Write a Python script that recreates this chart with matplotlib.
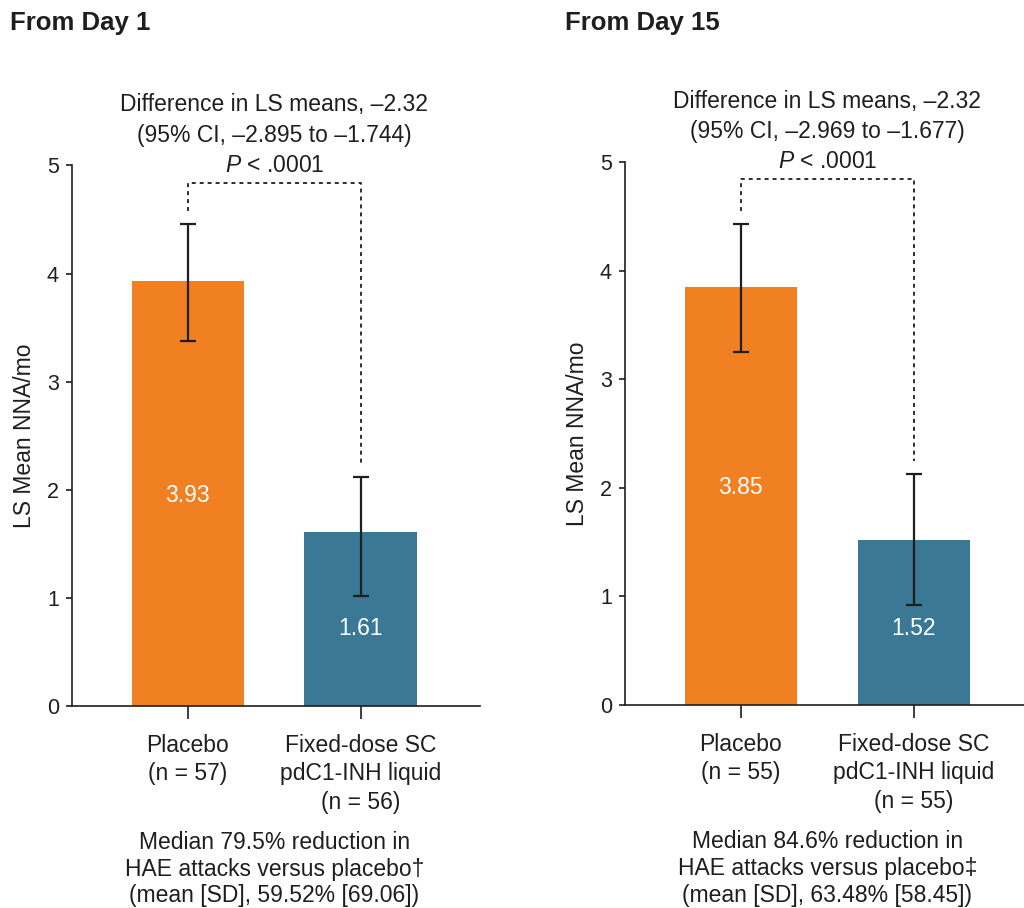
import matplotlib
matplotlib.use("Agg")
import matplotlib.pyplot as plt
import matplotlib.transforms as mtransforms

plt.rcParams['font.family'] = ['Liberation Sans', 'DejaVu Sans']
plt.rcParams['mathtext.fontset'] = 'custom'
plt.rcParams['mathtext.rm'] = 'Liberation Sans'
plt.rcParams['mathtext.it'] = 'Liberation Sans:italic'

INK = '#1e1e1e'
ORANGE = '#F08022'
BLUE = '#3A7896'
FS = 16.5

# LS mean NNA/mo with 95% CI, per analysis window
groups = ['Placebo', 'Fixed-dose SC']
day1_means = [3.93, 1.61]
day1_lo = [3.38, 1.02]
day1_hi = [4.46, 2.12]
day15_means = [3.85, 1.52]
day15_lo = [3.25, 0.92]
day15_hi = [4.43, 2.13]

day1_ticks = ['Placebo\n(n = 57)', 'Fixed-dose SC\npdC1-INH liquid\n(n = 56)']
day15_ticks = ['Placebo\n(n = 55)', 'Fixed-dose SC\npdC1-INH liquid\n(n = 55)']

day1_diff = ['Difference in LS means, \u20132.32',
             '(95% CI, \u20132.895 to \u20131.744)']
day15_diff = ['Difference in LS means, \u20132.32',
              '(95% CI, \u20132.969 to \u20131.677)']
p_text = '$\\it{P}$ < .0001'

day1_note = ('Median 79.5% reduction in\nHAE attacks versus placebo\u2020\n'
             '(mean [SD], 59.52% [69.06])')
day15_note = ('Median 84.6% reduction in\nHAE attacks versus placebo\u2021\n'
              '(mean [SD], 63.48% [58.45])')


def draw_panel(ax, means, lo, hi, ticks, diff, note, text_y):
    x = list(range(len(means)))
    ax.bar(x, means, width=0.65, color=[ORANGE, BLUE], zorder=2)
    yerr = [[m - l for m, l in zip(means, lo)],
            [h - m for m, h in zip(means, hi)]]
    ax.errorbar(x, means, yerr=yerr, fmt='none', ecolor=INK,
                elinewidth=1.6, capsize=6, capthick=1.6, zorder=3)

    for xi, m, ty in zip(x, means, text_y):
        ax.text(xi, ty, f'{m:.2f}', color='white', fontsize=FS,
                ha='center', va='center', zorder=4)

    # significance bracket
    top = 4.84
    ax.plot([0, 0, 1, 1], [hi[0] + 0.12, top, top, hi[1] + 0.12],
            color=INK, lw=1.3, linestyle=(0, (2.2, 2.2)), zorder=3,
            clip_on=False)

    ax.text(0.5, 5.56, diff[0], ha='center', va='center', fontsize=FS,
            color=INK, clip_on=False)
    ax.text(0.5, 5.28, diff[1], ha='center', va='center', fontsize=FS,
            color=INK, clip_on=False)
    ax.text(0.5, 5.0, p_text, ha='center', va='center', fontsize=FS,
            color=INK, clip_on=False)

    ax.set_xlim(-0.67, 1.69)
    ax.set_ylim(0, 5)
    ax.set_xticks(x)
    ax.set_xticklabels(ticks, fontsize=FS, color=INK, linespacing=1.3)
    ax.set_yticks([0, 1, 2, 3, 4, 5])
    ax.tick_params(axis='y', length=4.5, width=1.2, pad=5, labelsize=15.5,
                   colors=INK)
    ax.tick_params(axis='x', length=9, width=1.2, pad=11, colors=INK)
    for side in ['top', 'right']:
        ax.spines[side].set_visible(False)
    for side in ['left', 'bottom']:
        ax.spines[side].set_linewidth(1.2)
        ax.spines[side].set_color(INK)
    ax.set_ylabel('LS Mean NNA/mo', fontsize=FS, color=INK, labelpad=8)

    trans = mtransforms.blended_transform_factory(ax.transData, ax.transAxes)
    ax.text(0.5, -0.231, note, transform=trans, ha='center', va='top',
            fontsize=FS, color=INK, linespacing=1.21)


fig = plt.figure(figsize=(10.24, 9.08), dpi=100)
ax1 = fig.add_axes([0.0703, 0.2225, 0.3984, 0.5953])
ax2 = fig.add_axes([0.6104, 0.2236, 0.3984, 0.5980])

draw_panel(ax1, day1_means, day1_lo, day1_hi, day1_ticks, day1_diff,
           day1_note, [1.95, 0.72])
draw_panel(ax2, day15_means, day15_lo, day15_hi, day15_ticks, day15_diff,
           day15_note, [2.0, 0.70])

fig.text(0.0098, 1 - 23 / 908, 'From Day 1', fontsize=18.5, weight='bold',
         color=INK, va='center', ha='left')
fig.text(0.5518, 1 - 23 / 908, 'From Day 15', fontsize=18.5, weight='bold',
         color=INK, va='center', ha='left')

fig.savefig('out.png', dpi=100)
